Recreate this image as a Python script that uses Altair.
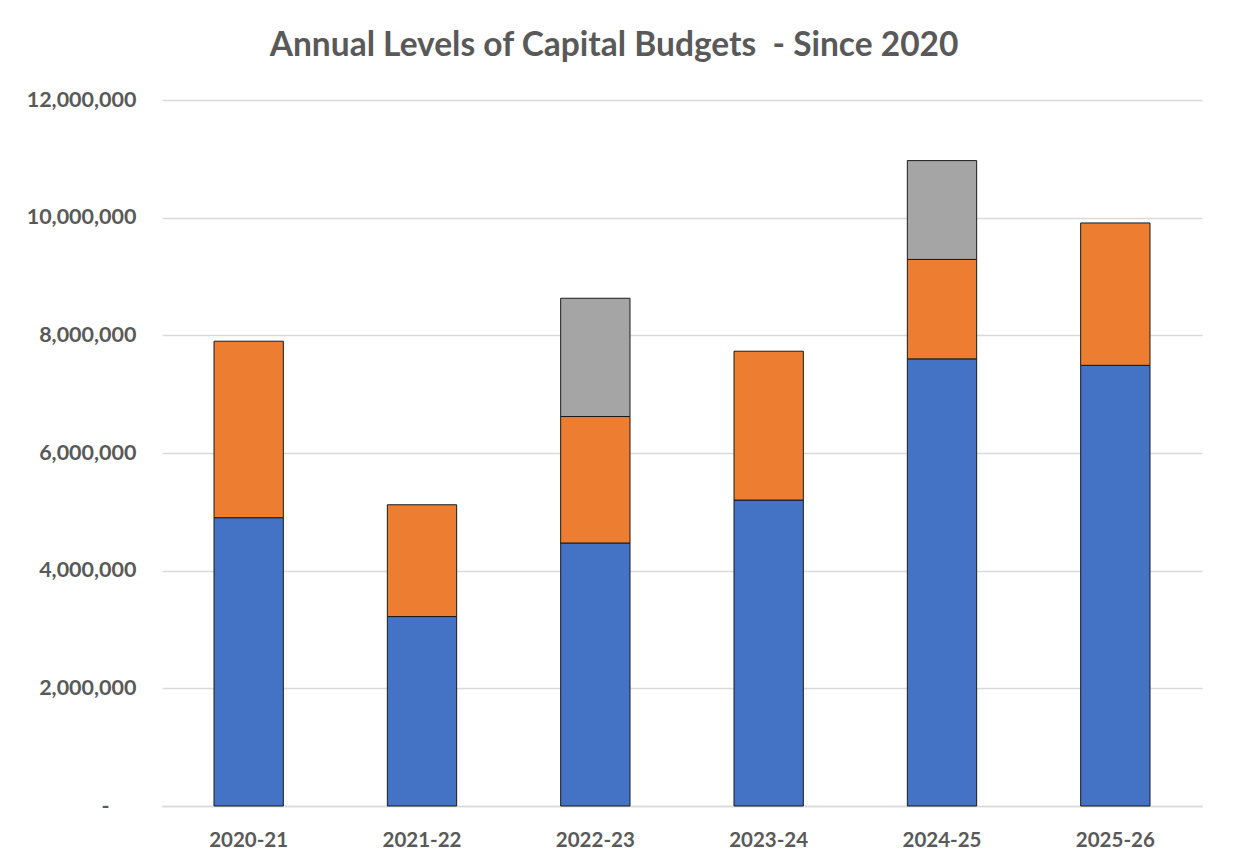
import altair as alt
import pandas as pd

years = ["2020-21", "2021-22", "2022-23", "2023-24", "2024-25", "2025-26"]
series_names = ["Series 1", "Series 2", "Series 3"]
series1 = [4900000, 3220000, 4470000, 5200000, 7600000, 7490000]
series2 = [3000000, 1900000, 2150000, 2530000, 1690000, 2420000]
series3 = [0, 0, 2010000, 0, 1680000, 0]
colors = ["#4472C4", "#ED7D31", "#A5A5A5"]

rows = []
for i, y in enumerate(years):
    for k, (name, vals) in enumerate(zip(series_names, [series1, series2, series3])):
        if vals[i] > 0:
            rows.append({"year": y, "series": name, "value": vals[i], "order": k})
df = pd.DataFrame(rows)

label_color = "#595959"

chart = (
    alt.Chart(df)
    .mark_bar(stroke="#1a1a1a", strokeWidth=1)
    .encode(
        x=alt.X(
            "year:N",
            sort=years,
            title=None,
            scale=alt.Scale(paddingInner=0.6, paddingOuter=0.3),
            axis=alt.Axis(
                labelAngle=0,
                labelFont="Lato",
                labelFontSize=20.5,
                labelFontWeight="bold",
                labelColor=label_color,
                labelPadding=24,
                ticks=False,
                domainColor="#d9d9d9",
                domainWidth=1.5,
                grid=False,
            ),
        ),
        y=alt.Y(
            "value:Q",
            stack="zero",
            title=None,
            scale=alt.Scale(domain=[0, 12000000], nice=False),
            axis=alt.Axis(
                values=[0, 2000000, 4000000, 6000000, 8000000, 10000000, 12000000],
                labelExpr="datum.value == 0 ? '-\u2003\u2002\u200b' : format(datum.value, ',')",
                labelFont="Lato",
                labelFontSize=21.5,
                labelFontWeight="bold",
                labelColor=label_color,
                labelPadding=26,
                ticks=False,
                domain=False,
                gridColor="#d9d9d9",
                gridWidth=1.5,
            ),
        ),
        color=alt.Color(
            "series:N",
            scale=alt.Scale(domain=series_names, range=colors),
            legend=None,
        ),
        order=alt.Order("order:Q", sort="ascending"),
    )
    .properties(
        width=1040,
        height=706,
        padding={"left": 18, "top": 21, "right": 10, "bottom": 5},
        title=alt.TitleParams(
            "Annual Levels of Capital Budgets\u00a0\u00a0- Since 2020",
            font="Lato",
            fontSize=33.5,
            fontWeight="bold",
            color=label_color,
            anchor="middle",
            frame="bounds",
            offset=25.5,
        ),
    )
    .configure_view(stroke=None)
)

chart.save("out.html", embed_options={"renderer": "svg", "actions": False})
